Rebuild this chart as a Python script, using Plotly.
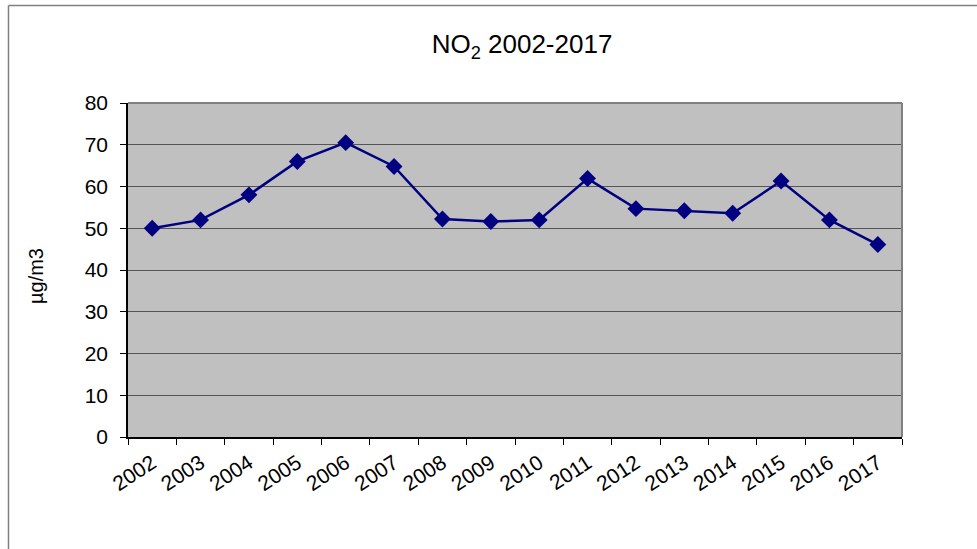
import plotly.graph_objects as go

years = [str(y) for y in range(2002, 2018)]
no2 = [50.0, 52.0, 58.0, 66.0, 70.5, 64.8, 52.2, 51.6, 52.0, 61.9, 54.7, 54.2, 53.6, 61.3, 52.0, 46.1]
y_ticks = [0, 10, 20, 30, 40, 50, 60, 70, 80]

W, H = 977, 549
L, R, T, B = 128, 75, 103, 112
pw, ph = W - L - R, H - T - B

fig = go.Figure()
fig.add_trace(go.Scatter(
    x=years, y=no2, mode="lines+markers",
    line=dict(color="#000080", width=2.5),
    marker=dict(symbol="diamond", size=13, color="#000080"),
    showlegend=False, hoverinfo="x+y",
))

def px_x(p):
    return (p - L) / pw

def px_y(p):
    return (H - B - p) / ph

shapes = [
    dict(type="line", xref="paper", yref="paper", x0=px_x(8.5), x1=px_x(980), y0=px_y(5.5), y1=px_y(5.5),
         line=dict(color="#808080", width=1.5)),
    dict(type="line", xref="paper", yref="paper", x0=px_x(8.5), x1=px_x(8.5), y0=px_y(5.5), y1=px_y(560),
         line=dict(color="#808080", width=1.5)),
    dict(type="line", xref="paper", yref="paper", x0=0, x1=1, y0=1, y1=1, line=dict(color="#808080", width=2)),
    dict(type="line", xref="paper", yref="paper", x0=1, x1=1, y0=0, y1=1, line=dict(color="#808080", width=2)),
]

annotations = [
    dict(text="µg/m3", xref="paper", yref="paper", x=px_x(36), y=px_y(276),
         xanchor="center", yanchor="middle", textangle=-90, showarrow=False,
         font=dict(size=20, color="black")),
]

fig.update_layout(
    width=W, height=H,
    margin=dict(l=L, r=R, t=T, b=B),
    paper_bgcolor="white",
    plot_bgcolor="#C0C0C0",
    font=dict(family="Liberation Sans, Arial, sans-serif", color="black", size=20),
    title=dict(text="NO<sub>2</sub> 2002-2017", x=522 / W, xanchor="center",
               y=1 - 44 / H, yanchor="middle", yref="container",
               font=dict(size=26, color="black")),
    shapes=shapes,
    annotations=annotations,
    xaxis=dict(
        type="category", tickson="boundaries", ticks="outside", ticklen=6, tickcolor="black",
        tickangle=-33, showline=True, linecolor="black", linewidth=1.5,
        showgrid=False, tickfont=dict(size=21), range=[-0.5, 15.5], ticklabelstandoff=4,
    ),
    yaxis=dict(
        range=[0, 80], tickvals=y_ticks, ticks="outside", ticklen=6, tickcolor="black",
        showline=True, linecolor="black", linewidth=1.5,
        showgrid=True, gridcolor="#555555", gridwidth=1, zeroline=False,
        tickfont=dict(size=21), ticklabelstandoff=8,
    ),
)

fig.write_html("out.html")
